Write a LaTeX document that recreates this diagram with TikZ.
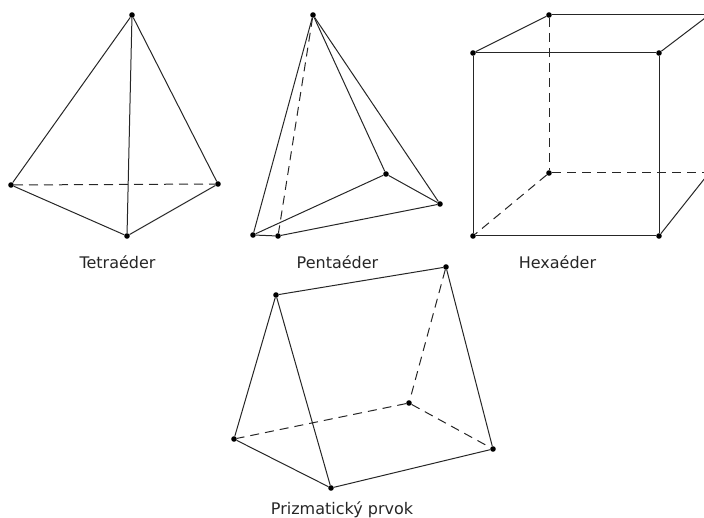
\documentclass[tikz,border=0pt]{standalone}
\usepackage{fontspec}
\setmainfont{DejaVu Sans}
\usepackage{tikz}

\begin{document}
\begin{tikzpicture}[x=1pt, y=-1pt,
                    vertex/.style={circle, fill=black, inner sep=0pt, minimum size=5.6pt},
                    edge/.style={draw=black!85, line width=1pt},
                    hidden/.style={edge, dash pattern=on 9pt off 6pt},
                    caption/.style={font=\fontsize{16}{19}\selectfont, text=black!85, inner sep=0pt}]

\useasboundingbox (0,0) rectangle (704,518);
\clip (0,0) rectangle (704,518);

% Tetrahedron
\node[vertex] (tet1) at (132,15) {};
\node[vertex] (tet2) at (11,185) {};
\node[vertex] (tet3) at (218,184) {};
\node[vertex] (tet4) at (127,236) {};
\node[caption] (tetlabel) at (117.5,262) {Tetraéder};

% Pyramid
\node[vertex] (pent1) at (313,15) {};
\node[vertex] (pent2) at (253,235) {};
\node[vertex] (pent3) at (278,236) {};
\node[vertex] (pent4) at (386,174) {};
\node[vertex] (pent5) at (440,204) {};
\node[caption] (pentlabel) at (337.5,262) {Pentaéder};

% Cube, its right side runs off the page
\node[vertex] (hex1) at (473,53) {};
\node[vertex] (hex2) at (659,53) {};
\node[vertex] (hex3) at (549,15) {};
\node[vertex] (hex4) at (709,15) {};
\node[vertex] (hex5) at (473,236) {};
\node[vertex] (hex6) at (659,236) {};
\node[vertex] (hex7) at (549,173) {};
\node[vertex] (hex8) at (709,173) {};
\node[caption] (hexlabel) at (557.5,262) {Hexaéder};

% Prism
\node[vertex] (pri1) at (276,295) {};
\node[vertex] (pri2) at (446,267) {};
\node[vertex] (pri3) at (234,439) {};
\node[vertex] (pri4) at (331,488) {};
\node[vertex] (pri5) at (409,403) {};
\node[vertex] (pri6) at (493,449) {};
\node[caption] (prilabel) at (342,510) {Prizmatický prvok};

% Connections
\draw[edge] (tet1) -- (tet2);
\draw[edge] (tet1) -- (tet3);
\draw[edge] (tet1) -- (tet4);
\draw[edge] (tet2) -- (tet4);
\draw[edge] (tet3) -- (tet4);
\draw[hidden] (tet2) -- (tet3);

\draw[edge] (pent1) -- (pent2);
\draw[edge] (pent1) -- (pent4);
\draw[edge] (pent1) -- (pent5);
\draw[edge] (pent2) -- (pent3);
\draw[edge] (pent2) -- (pent4);
\draw[edge] (pent4) -- (pent5);
\draw[edge] (pent3) -- (pent5);
\draw[hidden] (pent1) -- (pent3);

\draw[edge] (hex1) -- (hex2);
\draw[edge] (hex1) -- (hex3);
\draw[edge] (hex3) -- (hex4);
\draw[edge] (hex2) -- (hex4);
\draw[edge] (hex1) -- (hex5);
\draw[edge] (hex2) -- (hex6);
\draw[edge] (hex5) -- (hex6);
\draw[edge] (hex6) -- (hex8);
\draw[hidden] (hex3) -- (hex7);
\draw[hidden] (hex7) -- (hex5);
\draw[hidden] (hex7) -- (hex8);

\draw[edge] (pri1) -- (pri2);
\draw[edge] (pri1) -- (pri3);
\draw[edge] (pri1) -- (pri4);
\draw[edge] (pri3) -- (pri4);
\draw[edge] (pri4) -- (pri6);
\draw[edge] (pri2) -- (pri6);
\draw[hidden] (pri2) -- (pri5);
\draw[hidden] (pri5) -- (pri3);
\draw[hidden] (pri5) -- (pri6);

\end{tikzpicture}
\end{document}
